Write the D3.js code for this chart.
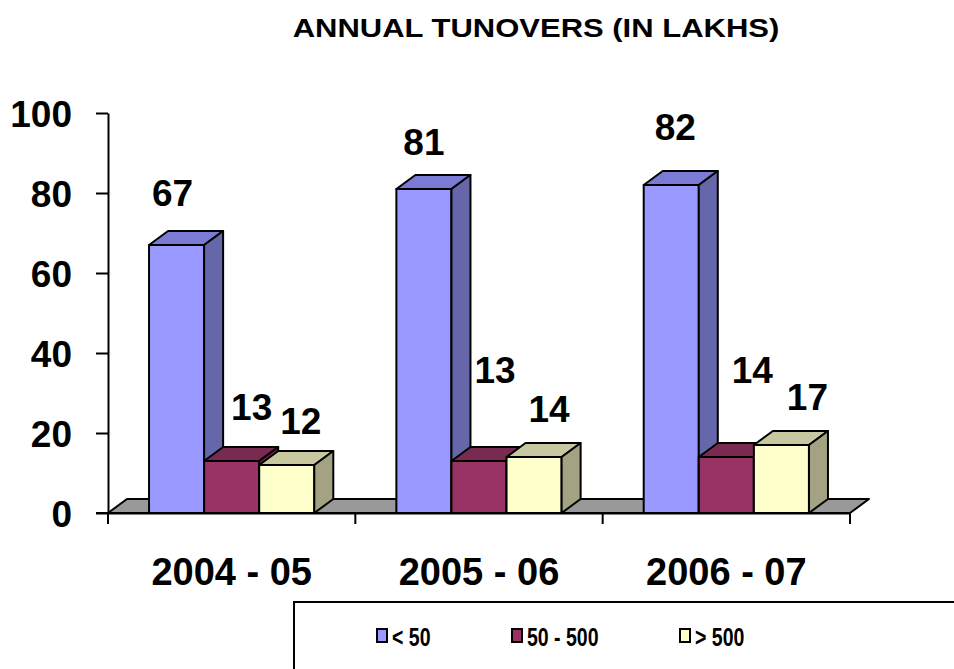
<!DOCTYPE html>
<html>
<head>
<meta charset="utf-8">
<script src="https://cdn.jsdelivr.net/npm/d3@7/dist/d3.min.js"></script>
<style>
  html, body { margin: 0; padding: 0; background: #fff; }
  svg { display: block; font-family: "Liberation Sans", Arial, sans-serif; font-weight: bold; }
</style>
</head>
<body>
<script>
// ---- data ----
const categories = ["2004 - 05", "2005 - 06", "2006 - 07"];
const seriesNames = ["< 50", "50 - 500", "> 500"];
const lt50 = [67, 81, 82];
const mid50to500 = [13, 13, 14];
const gt500 = [12, 14, 17];
const yTicks = [0, 20, 40, 60, 80, 100];
const title = "ANNUAL TUNOVERS (IN LAKHS)";

// ---- styles / layout ----
const frontColors = ["#9999FF", "#993366", "#FFFFCC"];
const topColors = ["#7B7BD5", "#782A50", "#C8C8A0"];
const sideColors = ["#6666AA", "#6A2445", "#A3A383"];
// manual data-label offsets (dx, dy from bar centre / bar top), per category then series
const labelOffsets = [
  [[-4, -39], [20, -41], [14, -31]],
  [[0, -34], [16, -78], [15, -35]],
  [[4, -45], [26, -74], [26, -35]]
];

const W = 954, H = 669;
const depthX = 19, depthY = -14;
const svg = d3.select("body").append("svg").attr("width", W).attr("height", H);

const values = [lt50, mid50to500, gt500];
const data = categories.map((c, i) => ({ cat: c, vals: seriesNames.map((s, j) => ({ s, j, v: values[j][i] })) }));

const x0 = d3.scaleBand().domain(categories).range([108, 850]).paddingInner(0).paddingOuter(0);
const x1 = d3.scaleBand().domain(seriesNames).range([0, x0.bandwidth()]).paddingInner(0).paddingOuter(0.745);
const y = d3.scaleLinear().domain([0, 100]).range([513, 113]);

// title
svg.append("text").attr("x", 536).attr("y", 37).attr("text-anchor", "middle")
  .attr("font-size", 31).attr("transform", "translate(536,0) scale(1,0.85) translate(-536,6)").text(title);

// floor
const y0 = y(0), xl = x0.range()[0], xr = x0.range()[1];
svg.append("path")
  .attr("d", `M${xl},${y0} L${xl + depthX},${y0 + depthY} L${xr + depthX},${y0 + depthY} L${xr},${y0} Z`)
  .attr("fill", "#999999").attr("stroke", "#000").attr("stroke-width", 2).attr("stroke-linejoin", "round");

// y axis
const yAxis = d3.axisLeft(y).tickValues(yTicks).tickSize(12).tickSizeOuter(0).tickPadding(24);
const gy = svg.append("g").attr("transform", `translate(${xl},0)`).call(yAxis);
gy.select(".domain").attr("stroke", "#000").attr("stroke-width", 2);
gy.selectAll(".tick line").attr("stroke", "#000").attr("stroke-width", 2);
gy.selectAll(".tick text").attr("font-size", 37).attr("font-weight", "bold").attr("fill", "#000")
  .attr("font-family", "Liberation Sans, Arial, sans-serif").attr("dy", "0.36em");

// x axis
const xAxis = d3.axisBottom(x0).tickSize(0).tickSizeOuter(0).tickPadding(0);
const gx = svg.append("g").attr("transform", `translate(0,${y0})`).call(xAxis);
gx.select(".domain").attr("stroke", "#000").attr("stroke-width", 2);
gx.selectAll(".tick text").attr("font-size", 38).attr("font-weight", "bold").attr("fill", "#000")
  .attr("font-family", "Liberation Sans, Arial, sans-serif").attr("y", 72).attr("dy", 0);
// category divider ticks
const divs = [xl].concat(categories.map(c => x0(c) + x0.bandwidth()));
svg.append("g").selectAll("line").data(divs).join("line")
  .attr("x1", d => d).attr("x2", d => d).attr("y1", y0).attr("y2", y0 + 11)
  .attr("stroke", "#000").attr("stroke-width", 2);
// horizontal extension of y tick at zero
svg.append("line").attr("x1", xl - 12).attr("x2", xr).attr("y1", y0).attr("y2", y0)
  .attr("stroke", "#000").attr("stroke-width", 2);

// bars
const bars = svg.append("g");
data.forEach(d => {
  d.vals.forEach(b => {
    const bx = x0(d.cat) + x1(b.s), bw = x1.bandwidth();
    const top = y(b.v), bot = y(0);
    const g = bars.append("g").attr("stroke", "#000").attr("stroke-width", 2).attr("stroke-linejoin", "round");
    g.append("rect").attr("x", bx).attr("y", top).attr("width", bw).attr("height", bot - top)
      .attr("fill", frontColors[b.j]);
    g.append("path").attr("d", `M${bx},${top} L${bx + depthX},${top + depthY} L${bx + bw + depthX},${top + depthY} L${bx + bw},${top} Z`)
      .attr("fill", topColors[b.j]);
    g.append("path").attr("d", `M${bx + bw},${top} L${bx + bw + depthX},${top + depthY} L${bx + bw + depthX},${bot + depthY} L${bx + bw},${bot} Z`)
      .attr("fill", sideColors[b.j]);
  });
});

// value labels
const labels = svg.append("g");
data.forEach((d, i) => {
  d.vals.forEach(b => {
    const cx = x0(d.cat) + x1(b.s) + x1.bandwidth() / 2;
    const off = labelOffsets[i][b.j];
    labels.append("text").attr("x", cx + off[0]).attr("y", y(b.v) + off[1])
      .attr("text-anchor", "middle").attr("font-size", 37).attr("fill", "#000").text(b.v);
  });
});

// legend
const leg = svg.append("g");
leg.append("rect").attr("x", 294).attr("y", 602).attr("width", 700).attr("height", 100)
  .attr("fill", "#fff").attr("stroke", "#000").attr("stroke-width", 2);
const legX = [377, 512, 680];
seriesNames.forEach((s, j) => {
  leg.append("rect").attr("x", legX[j]).attr("y", 629).attr("width", 10).attr("height", 13)
    .attr("fill", frontColors[j]).attr("stroke", "#000").attr("stroke-width", 2);
  const tx = legX[j] + 15;
  leg.append("text").attr("x", tx).attr("y", 646).attr("font-size", 25).attr("fill", "#000")
    .attr("transform", `translate(${tx},0) scale(0.78,1) translate(${-tx},0)`).text(s);
});
</script>
</body>
</html>
